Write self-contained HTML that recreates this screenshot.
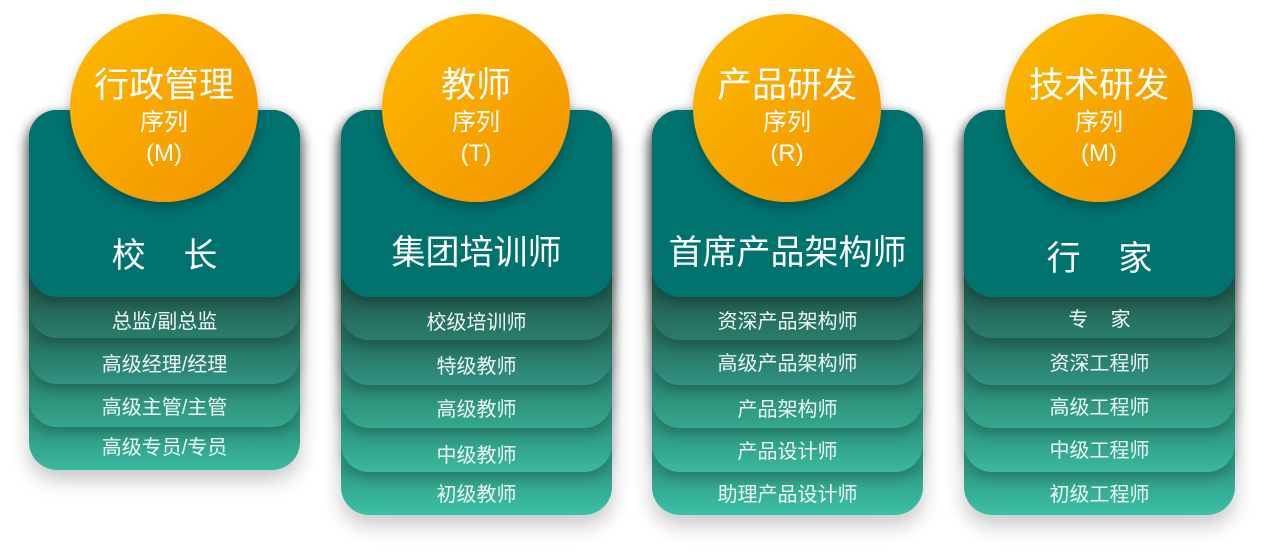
<!DOCTYPE html>
<html><head><meta charset="utf-8"><style>
body{margin:0;width:1264px;height:558px;background:#fff;position:relative;overflow:hidden;font-family:"Liberation Sans","Noto Sans CJK SC",sans-serif;color:#fff}
.col{position:absolute;top:0;width:271px;height:558px}
.l{position:absolute;left:0;width:271px;top:110px;border-radius:28px;box-shadow:0 6px 12px rgba(0,0,0,.22)}
.l.z{box-shadow:0 10px 20px rgba(0,0,0,.22)}
.t{position:absolute;left:0;width:271px;text-align:center;font-size:20px;line-height:24px;color:#eef8f5}
.top{position:absolute;left:0;top:110px;width:271px;height:187px;border-radius:28px;background:#00736f;box-shadow:0 6px 14px rgba(0,0,0,.25)}
.h{position:absolute;left:0;width:271px;text-align:center;font-size:34px;line-height:40px}
.c{position:absolute;left:41px;top:14px;width:188px;height:188px;border-radius:50%;background:linear-gradient(135deg,#fdba00,#f29200);box-shadow:0 6px 12px rgba(0,0,0,.25);text-align:center}
.c .a{position:absolute;left:0;width:188px;top:52px;font-size:35px;line-height:40px}
.c .b{position:absolute;left:0;width:188px;top:95px;font-size:24px;line-height:28px}
.c .d{position:absolute;left:0;width:188px;top:126px;font-size:24px;line-height:28px}
.r1{background:linear-gradient(to top,#2a7d6b 0,#225f52 44px)}
.r2{background:linear-gradient(to top,#319282 0,#25705f 44px)}
.r3{background:linear-gradient(to top,#35a78e 0,#2a8671 44px)}
.r4{background:linear-gradient(to top,#39b99e 0,#2d957f 44px)}
.r5{background:linear-gradient(to top,#3cc1a6 0,#2f9c85 44px)}
</style></head><body>

<div class="col" style="left:29px">
<div class="l r4 z" style="height:360px;z-index:1"></div>
<div class="l r3" style="height:317px;z-index:2"></div>
<div class="l r2" style="height:274px;z-index:3"></div>
<div class="l r1" style="height:228px;z-index:4"></div>
<div class="top" style="z-index:5"></div>
<div class="c" style="z-index:6"><div class="a">行政管理</div><div class="b">序列</div><div class="d">(M)</div></div>
<div class="h" style="top:236px;z-index:7">校&nbsp;&nbsp;&nbsp;&nbsp;长</div>
<div class="t" style="top:310px;z-index:7">总监/副总监</div>
<div class="t" style="top:353px;z-index:7">高级经理/经理</div>
<div class="t" style="top:396px;z-index:7">高级主管/主管</div>
<div class="t" style="top:436px;z-index:7">高级专员/专员</div>
</div>

<div class="col" style="left:341px">
<div class="l r5 z" style="height:405px;z-index:1"></div>
<div class="l r4" style="height:362px;z-index:2"></div>
<div class="l r3" style="height:318px;z-index:3"></div>
<div class="l r2" style="height:275px;z-index:4"></div>
<div class="l r1" style="height:230px;z-index:5"></div>
<div class="top" style="z-index:6"></div>
<div class="c" style="z-index:7"><div class="a">教师</div><div class="b">序列</div><div class="d">(T)</div></div>
<div class="h" style="top:233px;z-index:8">集团培训师</div>
<div class="t" style="top:311px;z-index:8">校级培训师</div>
<div class="t" style="top:355px;z-index:8">特级教师</div>
<div class="t" style="top:398px;z-index:8">高级教师</div>
<div class="t" style="top:444px;z-index:8">中级教师</div>
<div class="t" style="top:483px;z-index:8">初级教师</div>
</div>

<div class="col" style="left:652px">
<div class="l r5 z" style="height:405px;z-index:1"></div>
<div class="l r4" style="height:362px;z-index:2"></div>
<div class="l r3" style="height:318px;z-index:3"></div>
<div class="l r2" style="height:275px;z-index:4"></div>
<div class="l r1" style="height:230px;z-index:5"></div>
<div class="top" style="z-index:6"></div>
<div class="c" style="z-index:7"><div class="a">产品研发</div><div class="b">序列</div><div class="d">(R)</div></div>
<div class="h" style="top:233px;z-index:8">首席产品架构师</div>
<div class="t" style="top:310px;z-index:8">资深产品架构师</div>
<div class="t" style="top:352px;z-index:8">高级产品架构师</div>
<div class="t" style="top:398px;z-index:8">产品架构师</div>
<div class="t" style="top:440px;z-index:8">产品设计师</div>
<div class="t" style="top:483px;z-index:8">助理产品设计师</div>
</div>

<div class="col" style="left:964px">
<div class="l r5 z" style="height:405px;z-index:1"></div>
<div class="l r4" style="height:362px;z-index:2"></div>
<div class="l r3" style="height:318px;z-index:3"></div>
<div class="l r2" style="height:275px;z-index:4"></div>
<div class="l r1" style="height:228px;z-index:5"></div>
<div class="top" style="z-index:6"></div>
<div class="c" style="z-index:7"><div class="a">技术研发</div><div class="b">序列</div><div class="d">(M)</div></div>
<div class="h" style="top:239px;z-index:8">行&nbsp;&nbsp;&nbsp;&nbsp;家</div>
<div class="t" style="top:308px;z-index:8">专&nbsp;&nbsp;&nbsp;&nbsp;家</div>
<div class="t" style="top:352px;z-index:8">资深工程师</div>
<div class="t" style="top:396px;z-index:8">高级工程师</div>
<div class="t" style="top:439px;z-index:8">中级工程师</div>
<div class="t" style="top:483px;z-index:8">初级工程师</div>
</div>

</body></html>
